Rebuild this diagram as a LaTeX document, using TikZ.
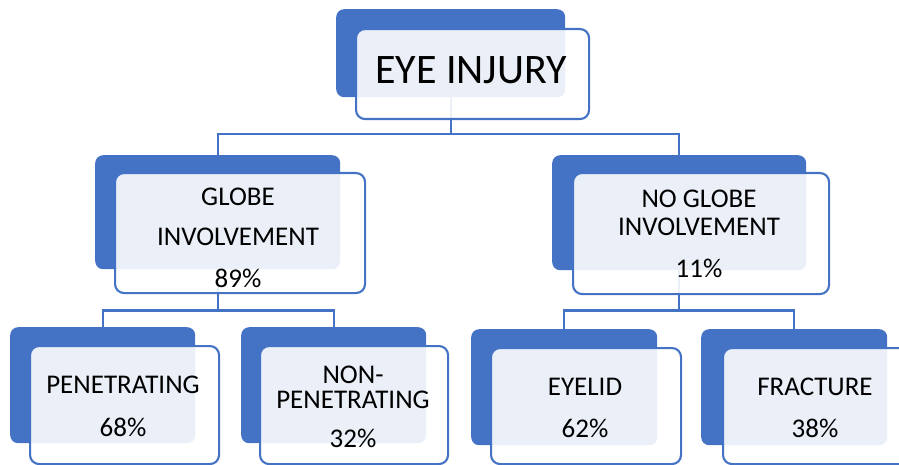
\documentclass[tikz,border=0pt]{standalone}
\usepackage{fontspec}
\setmainfont{Carlito}
\definecolor{cblue}{HTML}{4472C4}
\tikzset{
  backbox/.style={fill=cblue, draw=none, rounded corners=8pt, inner sep=0pt, anchor=north west},
  frontbox/.style={fill=white, fill opacity=0.89, draw=cblue, draw opacity=1, line width=2.1pt, rounded corners=9pt, inner sep=0pt, anchor=north west},
  conn/.style={draw=cblue, line width=2.2pt},
  lbl/.style={inner sep=0pt, font=\fontsize{27}{31}\selectfont, text=black},
  biglbl/.style={inner sep=0pt, font=\fontsize{42}{48}\selectfont, text=black}
}
\begin{document}
\begin{tikzpicture}[x=1pt,y=-1pt]
\useasboundingbox (0,0) rectangle (899,465);
% back boxes
\node[backbox, minimum width=229pt, minimum height=88pt] (b0) at (336,9) {};
\node[backbox, minimum width=245pt, minimum height=114pt] (b1) at (95,155) {};
\node[backbox, minimum width=254pt, minimum height=115pt] (b2) at (552,155) {};
\node[backbox, minimum width=185pt, minimum height=116pt] (b11) at (10,327) {};
\node[backbox, minimum width=185pt, minimum height=116pt] (b12) at (241,327) {};
\node[backbox, minimum width=186pt, minimum height=116pt] (b21) at (471,329) {};
\node[backbox, minimum width=186pt, minimum height=116pt] (b22) at (701,329) {};
% connectors
\draw[conn] (b0.south) -- ++(0,37) -| (b1.north);
\draw[conn] (b0.south) -- ++(0,37) -| (b2.north);
\draw[conn] (b1.south) -- ++(0,41) -| (b11.north);
\draw[conn] (b1.south) -- ++(0,41) -| (b12.north);
\draw[conn] (b2.south) -- ++(0,40) -| (b21.north);
\draw[conn] (b2.south) -- ++(0,40) -| (b22.north);
% front boxes
\node[frontbox, minimum width=233pt, minimum height=90pt] (f0) at (355,28) {};
\node[frontbox, minimum width=250pt, minimum height=120pt] (f1) at (114,172) {};
\node[frontbox, minimum width=256pt, minimum height=121pt] (f2) at (572,172) {};
\node[frontbox, minimum width=189pt, minimum height=118pt] (f11) at (29,345) {};
\node[frontbox, minimum width=188pt, minimum height=118pt] (f12) at (259,345) {};
\node[frontbox, minimum width=190pt, minimum height=116pt] (f21) at (490,347) {};
\node[frontbox, minimum width=190pt, minimum height=116pt] (f22) at (722,347) {};
% texts
\node[biglbl] (t0) at (471,70) {EYE INJURY};
\node[lbl] (t1a) at (238,197) {GLOBE};
\node[lbl] (t1b) at (238,237) {INVOLVEMENT};
\node[lbl] (t1c) at (238,278) {89\%};
\node[lbl] (t2a) at (699,199) {NO GLOBE};
\node[lbl] (t2b) at (699,227) {INVOLVEMENT};
\node[lbl] (t2c) at (699,268) {11\%};
\node[lbl] (t11a) at (123,385) {PENETRATING};
\node[lbl] (t11b) at (123,427) {68\%};
\node[lbl] (t12a) at (353,375) {NON-};
\node[lbl] (t12b) at (353,400) {PENETRATING};
\node[lbl] (t12c) at (353,438) {32\%};
\node[lbl] (t21a) at (585,387) {EYELID};
\node[lbl] (t21b) at (585,428) {62\%};
\node[lbl] (t22a) at (815,387) {FRACTURE};
\node[lbl] (t22b) at (815,428) {38\%};
\end{tikzpicture}
\end{document}
